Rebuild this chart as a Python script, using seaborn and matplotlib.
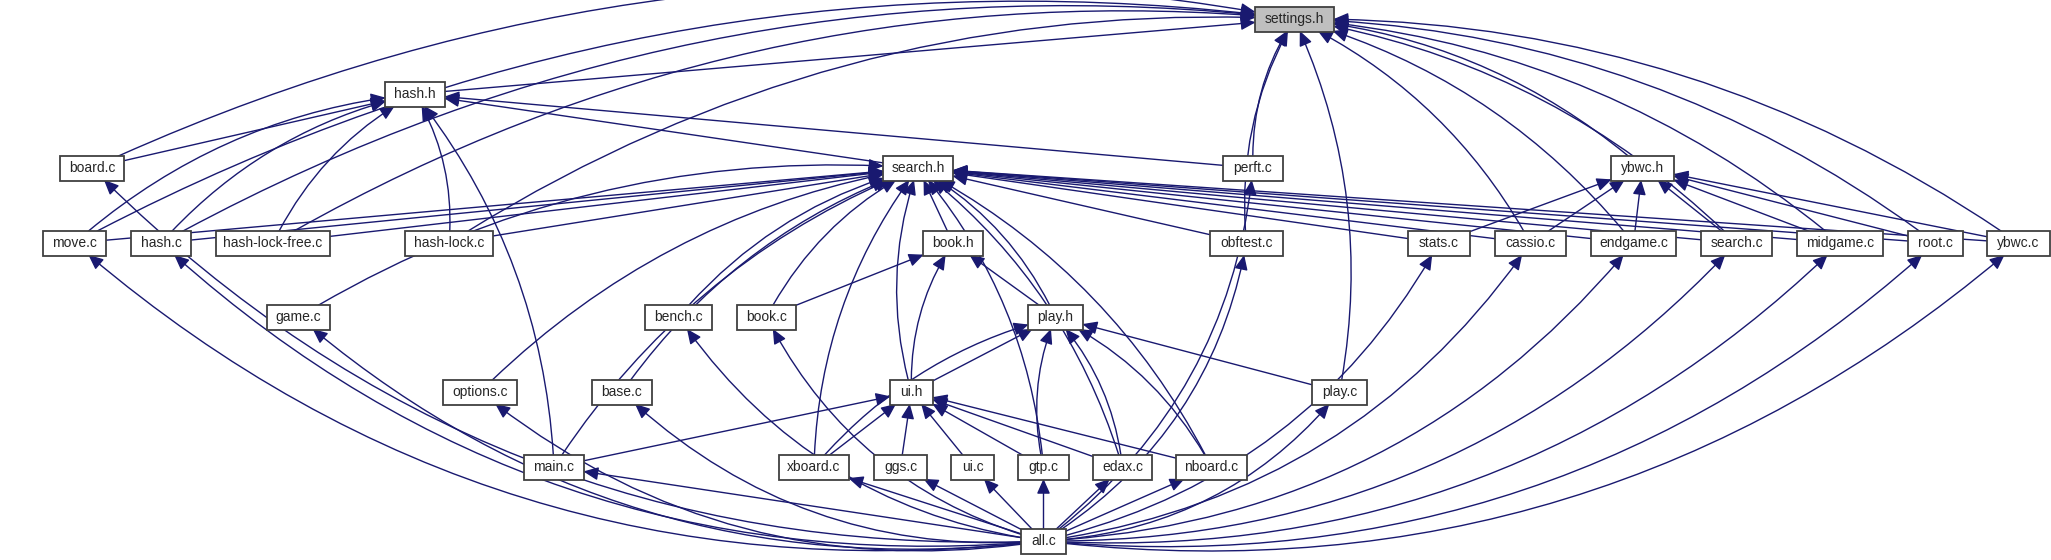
import matplotlib
matplotlib.use("Agg")
import matplotlib.pyplot as plt
import seaborn as sns
from matplotlib.patches import Rectangle, FancyArrowPatch

sns.set_style("white")
plt.rcParams["font.family"] = ["Liberation Sans", "DejaVu Sans"]

# nodes: name, left, right, rank
names = ["settings.h", "hash.h",
         "board.c", "search.h", "perft.c", "ybwc.h",
         "move.c", "hash.c", "hash-lock-free.c", "hash-lock.c", "book.h", "obftest.c",
         "stats.c", "cassio.c", "endgame.c", "search.c", "midgame.c", "root.c", "ybwc.c",
         "game.c", "bench.c", "book.c", "play.h",
         "options.c", "base.c", "ui.h", "play.c",
         "main.c", "xboard.c", "ggs.c", "ui.c", "gtp.c", "edax.c", "nboard.c",
         "all.c"]
lefts = [1255, 385,
         60, 883, 1223, 1611,
         43, 131, 216, 405, 923, 1210,
         1408, 1495, 1591, 1701, 1797, 1908, 1987,
         267, 645, 737, 1028,
         443, 592, 890, 1312,
         524, 779, 874, 951, 1018, 1093, 1176,
         1021]
rights = [1334, 445,
          124, 953, 1283, 1674,
          106, 191, 330, 493, 983, 1283,
          1470, 1566, 1676, 1772, 1883, 1963, 2050,
          330, 712, 796, 1083,
          517, 652, 933, 1367,
          584, 849, 927, 994, 1069, 1152, 1247,
          1066]
ranks = [0, 1,
         2, 2, 2, 2,
         3, 3, 3, 3, 3, 3, 3, 3, 3, 3, 3, 3, 3,
         4, 4, 4, 4,
         5, 5, 5, 5,
         6, 6, 6, 6, 6, 6, 6,
         7]
rank_y = [19, 94, 168, 243, 317, 392, 467, 541]

# who includes what: parent <- children
includes = {
    "settings.h": ["hash.h", "board.c", "move.c", "hash.c", "hash-lock-free.c", "hash-lock.c",
                   "perft.c", "obftest.c", "play.c", "cassio.c", "endgame.c", "ybwc.h",
                   "search.c", "midgame.c", "root.c", "ybwc.c"],
    "hash.h": ["board.c", "move.c", "hash.c", "hash-lock-free.c", "hash-lock.c", "main.c",
               "search.h", "perft.c"],
    "search.h": ["move.c", "hash.c", "hash-lock-free.c", "hash-lock.c", "game.c", "options.c",
                 "main.c", "base.c", "bench.c", "book.c", "book.h", "ui.h", "xboard.c", "gtp.c",
                 "play.h", "edax.c", "nboard.c", "obftest.c", "stats.c", "cassio.c",
                 "endgame.c", "search.c", "midgame.c", "root.c", "ybwc.c"],
    "ybwc.h": ["stats.c", "cassio.c", "endgame.c", "search.c", "midgame.c", "root.c", "ybwc.c"],
    "book.h": ["book.c", "play.h", "ui.h"],
    "play.h": ["ui.h", "xboard.c", "gtp.c", "edax.c", "nboard.c", "play.c"],
    "ui.h": ["main.c", "xboard.c", "ggs.c", "ui.c", "gtp.c", "edax.c", "nboard.c"],
}
all_c_includes = ["board.c", "move.c", "hash.c", "game.c", "options.c", "base.c", "bench.c",
                  "book.c", "main.c", "xboard.c", "ggs.c", "ui.c", "gtp.c", "edax.c",
                  "nboard.c", "play.c", "perft.c", "obftest.c", "stats.c", "cassio.c",
                  "endgame.c", "search.c", "midgame.c", "root.c", "ybwc.c"]

EDGE = "#191970"
BOX_H = 25

fig = plt.figure(figsize=(20.51, 5.6), dpi=100)
ax = fig.add_axes([0, 0, 1, 1])
ax.set_xlim(0, 2051)
ax.set_ylim(560, 0)
ax.axis("off")

boxes = {}
centers = {}
for n, l, r, k in zip(names, lefts, rights, ranks):
    y = rank_y[k]
    rect = Rectangle((l, y - BOX_H / 2), r - l, BOX_H,
                     facecolor="#bfbfbf" if n == "settings.h" else "white",
                     edgecolor="#404040", linewidth=1.3, zorder=3)
    ax.add_patch(rect)
    ax.text((l + r) / 2, y, n, ha="center", va="center", fontsize=10, zorder=4)
    boxes[n] = rect
    centers[n] = ((l + r) / 2, y)


def edge(child, parent, rad):
    a = FancyArrowPatch(centers[child], centers[parent], patchA=boxes[child], patchB=boxes[parent],
                        arrowstyle="-|>,head_length=9,head_width=4", connectionstyle=f"arc3,rad={rad}",
                        color=EDGE, linewidth=1.0, zorder=2, shrinkA=0, shrinkB=0)
    ax.add_patch(a)


for parent, kids in includes.items():
    px, py = centers[parent]
    for c in kids:
        cx, cy = centers[c]
        span = (cy - py) / 75
        rad = 0.0 if span <= 1 else (0.16 if cx > px else -0.16)
        edge(c, parent, rad)

ax_, ay_ = centers["all.c"]
for c in all_c_includes:
    cx, cy = centers[c]
    span = (ay_ - cy) / 75
    rad = 0.0 if span <= 1 else (-0.22 if cx < ax_ else 0.22)
    edge("all.c", c, rad)

fig.savefig("out.png", dpi=100, facecolor="white")
